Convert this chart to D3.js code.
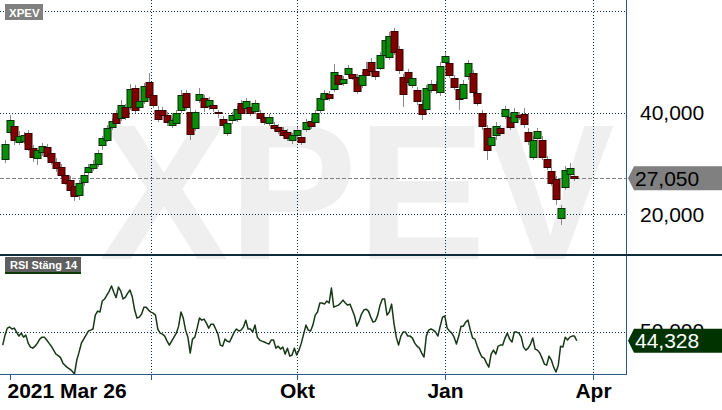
<!DOCTYPE html>
<html><head><meta charset="utf-8">
<script src="https://cdn.jsdelivr.net/npm/d3@7"></script>
<style>html,body{margin:0;padding:0;background:#fff;overflow:hidden}svg{display:block}</style>
</head><body>
<svg id="c" width="722" height="410"></svg>
<script>
const symbol = "XPEV";
const rsiLabel = "RSI Stäng 14";
// candles: one per two trading days (day index = 2*i+1)
const open = [30.85,36.17,37.35,34.20,34.39,35.97,33.01,31.04,32.23,33.21, 32.03,30.26,29.27,27.70,26.71,25.53,23.76,26.32,28.29,29.07, 29.86,33.60,34.59,37.15,39.91,38.92,41.09,41.09,44.83,41.09, 42.27,46.02,43.45,40.50,40.50,39.51,37.54,37.94,40.50,43.85, 40.11,36.95,42.47,42.86,41.29,41.49,40.11,38.73,35.97,38.53, 38.73,41.88,40.89,41.09,40.30,39.91,39.12,37.94,37.54,37.15, 36.56,36.17,34.59,35.57,35.18,36.76,38.33,38.13,40.50,42.67, 43.65,44.64,47.40,45.82,47.59,47.59,47.00,45.43,48.58,49.96, 48.18,48.77,51.34,50.94,56.06,52.52,47.00,47.99,45.43,44.44, 41.68,40.70,44.44,45.62,44.05,49.96,49.76,46.80,44.64,42.86, 47.20,47.79,43.85,39.91,36.95,33.60,35.57,36.95,39.32,39.12, 38.13,39.51,39.71,36.17,31.24,34.98,34.59,30.85,28.48,26.91, 19.22,25.33,27.89,27.50];
const high = [34.59,39.51,38.13,36.36,36.17,36.56,33.60,33.01,34.00,33.80, 32.62,31.04,29.86,28.29,27.50,26.32,26.71,28.29,29.86,30.65, 32.62,35.38,37.54,38.92,40.50,42.47,41.68,45.62,45.43,42.86, 45.82,47.79,44.05,41.29,41.09,40.11,38.92,40.50,44.44,44.44, 41.29,40.50,44.83,43.45,43.06,41.88,40.50,39.32,38.53,40.11, 41.29,42.47,42.86,41.68,42.47,40.50,39.71,39.71,38.13,37.74, 37.15,36.76,35.97,37.15,35.77,38.73,38.92,40.50,43.45,44.44, 44.24,49.56,47.99,47.20,49.36,48.18,47.59,47.99,49.96,50.74, 48.77,51.93,55.08,55.87,56.65,53.11,47.59,48.58,47.40,45.03, 42.47,45.43,46.41,46.21,49.96,51.93,50.74,47.40,45.23,46.41, 50.35,48.38,44.83,40.50,37.54,35.57,38.13,37.54,41.29,39.91, 40.89,40.11,40.89,36.95,35.38,36.95,35.38,31.44,30.06,27.50, 21.78,29.47,30.06,28.68];
const low = [30.06,35.57,33.60,33.60,33.80,32.42,30.26,29.67,31.44,31.04, 29.67,28.29,27.10,25.73,23.76,22.57,22.77,25.53,27.70,28.48, 29.27,32.62,34.20,36.56,37.35,38.33,38.53,40.50,39.91,40.50, 41.68,42.47,40.89,38.13,38.92,37.35,36.95,37.35,39.91,40.50, 34.59,36.36,41.88,40.11,40.50,40.11,38.92,36.95,35.38,37.74, 38.13,39.32,40.11,39.32,39.71,38.33,37.54,37.35,36.36,35.77, 35.18,34.39,33.80,35.18,33.60,36.17,36.76,37.54,39.91,42.08, 42.27,44.05,44.83,45.23,46.99,46.41,43.65,44.83,46.80,47.59, 46.41,48.38,50.74,50.35,51.34,47.59,41.09,45.43,44.83,41.49, 38.53,40.11,43.85,43.65,43.26,49.56,46.80,44.44,40.50,42.47, 46.41,43.06,41.29,36.56,30.65,32.62,34.59,35.38,38.73,36.56, 37.74,38.53,36.95,33.60,30.65,34.20,30.65,28.68,25.53,21.78, 17.84,24.74,27.10,26.51];
const close = [33.80,38.53,34.59,35.38,35.57,32.82,31.24,32.62,33.41,31.44, 30.26,29.07,27.70,26.12,24.74,23.56,26.12,27.70,29.27,29.86, 32.03,34.98,36.95,38.33,37.94,41.49,39.12,44.64,40.50,42.27, 45.23,43.06,41.49,38.73,39.51,38.13,38.53,39.91,43.45,41.09, 35.77,40.11,43.65,41.09,42.47,40.89,39.91,37.54,37.94,39.51, 40.70,39.91,42.27,39.91,41.88,38.92,38.13,39.12,36.95,36.36, 35.57,34.98,35.57,36.56,34.20,38.13,37.35,39.91,42.86,43.85, 42.86,47.99,45.62,46.61,48.77,46.80,44.24,47.40,47.40,48.18, 47.20,51.34,54.29,55.08,51.93,48.38,43.65,46.02,46.80,42.27, 39.71,44.83,45.62,44.44,49.17,51.14,47.40,45.03,42.67,45.62, 49.76,44.05,41.88,37.35,32.62,35.18,37.35,35.97,40.70,37.15, 40.11,39.12,37.74,34.39,34.59,36.36,31.24,29.27,26.12,22.97, 21.19,28.68,29.07,27.05];
// RSI, one value per trading day (day index 0..248)
const rsi = [41.5,48.0,52.6,53.3,52.0,52.6,50.0,47.4,49.3,46.7,
48.0,42.8,40.2,39.5,40.8,42.8,45.4,46.7,46.7,44.8,
42.8,40.8,38.2,35.6,34.6,33.3,29.7,28.1,26.8,25.8,
24.5,22.6,31.7,36.9,42.8,45.4,48.0,50.7,51.3,52.0,
61.1,63.7,63.1,70.3,71.6,74.2,76.8,80.1,76.1,72.5,
79.4,76.8,71.6,72.9,75.5,77.5,72.9,64.4,59.2,59.8,
61.8,66.3,66.3,64.4,63.1,62.4,61.1,52.0,49.3,48.7,
47.4,44.1,41.5,44.1,46.7,49.3,53.9,63.1,59.2,51.3,
46.7,36.3,45.4,46.7,52.6,59.2,57.8,58.5,55.9,52.6,
55.2,55.2,52.0,48.7,41.5,40.8,45.4,44.1,43.5,46.7,
50.0,52.0,50.7,51.3,53.3,57.8,52.0,52.0,50.0,54.6,
46.7,44.8,44.1,43.5,42.8,42.2,44.8,44.8,39.5,40.8,
38.9,40.2,35.6,39.5,34.3,35.0,39.5,35.0,38.2,42.8,
48.7,54.6,51.3,50.7,54.6,61.1,63.1,69.0,69.0,68.3,
70.3,69.0,78.8,66.3,67.0,67.6,69.0,70.9,69.0,67.6,
68.3,64.4,60.5,53.9,57.2,61.8,64.4,65.0,63.7,59.8,
56.5,57.2,61.1,67.6,71.6,71.6,61.1,63.1,68.3,55.9,
46.7,41.5,47.4,50.0,50.0,47.4,47.4,46.1,42.8,40.8,
39.5,36.3,33.7,47.4,51.3,52.0,51.3,50.0,47.4,53.9,
59.8,60.5,52.6,50.7,49.3,46.7,42.2,47.4,53.9,53.9,
56.5,57.8,51.3,46.1,45.4,40.8,36.9,33.7,33.0,29.7,
27.1,35.6,38.2,35.6,40.8,41.5,41.5,46.1,49.3,45.4,
43.5,50.0,50.0,49.3,46.7,40.2,38.2,39.5,42.2,46.1,
38.9,38.2,36.3,33.0,29.1,28.4,34.3,31.7,27.1,23.9,
28.4,40.8,40.2,46.7,44.8,46.7,47.4,47.4,44.328];
const tickDays = [3, 64, 127, 191, 255];
const tickLabels = ["2021 Mar 26", "", "Okt", "Jan", "Apr"];
const priceGrid = [20, 40, 60];
const priceLabels = [20, 40];
const rsiGrid = [50];
const lastPrice = 27.05;
const lastRsi = 44.328;

const FONT = "'Liberation Sans', Arial, sans-serif";
const plotR = 626;
const svg = d3.select("#c");
const x = d3.scaleLinear().domain([0, 248]).range([2.7, 576.8]);
const y = d3.scaleLinear().domain([20, 60]).range([214, 11]);
const yr = d3.scaleLinear().domain([20, 100]).range([378, 255.6]);
const fmt = d3.formatLocale({decimal: ",", thousands: " ", grouping: [3], currency: ["", ""]}).format(".3f");
const crisp = v => Math.round(v) + 0.5;

// watermark
svg.append("text").attr("x", 357).attr("y", 259).attr("text-anchor", "middle")
  .attr("font-family", FONT).attr("font-weight", "bold").attr("font-size", 193)
  .attr("fill", "#efefef").text(symbol);

const grid = svg.append("g").attr("stroke", "#0b3040").attr("stroke-width", 1).attr("stroke-dasharray", "1,2").attr("fill", "none");
priceGrid.forEach(v => grid.append("line").attr("x1", 0).attr("x2", plotR).attr("y1", crisp(y(v))).attr("y2", crisp(y(v))));
rsiGrid.forEach(v => grid.append("line").attr("x1", 0).attr("x2", plotR).attr("y1", crisp(yr(v))).attr("y2", crisp(yr(v))));
tickDays.slice(1).forEach(d => grid.append("line").attr("x1", crisp(x(d))).attr("x2", crisp(x(d))).attr("y1", 0).attr("y2", 374));

// last price dashed line
svg.append("line").attr("x1", 0).attr("x2", plotR).attr("y1", crisp(y(lastPrice))).attr("y2", crisp(y(lastPrice)))
  .attr("stroke", "#808080").attr("stroke-width", 1).attr("stroke-dasharray", "4,2");

// candles
const cg = svg.append("g");
open.forEach((o, i) => {
  const c = close[i], cx = Math.round(x(2 * i + 1));
  const up = c >= o;
  cg.append("line").attr("x1", cx + 0.5).attr("x2", cx + 0.5).attr("y1", y(high[i])).attr("y2", y(low[i]))
    .attr("stroke", "#8a8a8a").attr("stroke-width", 1);
  const top = y(Math.max(o, c)), bot = y(Math.min(o, c));
  cg.append("rect").attr("x", cx - 3).attr("width", 7)
    .attr("y", Math.round(top) + 0.5).attr("height", Math.max(1, Math.round(bot - top)))
    .attr("fill", up ? "#0a8c0a" : "#800000").attr("stroke", up ? "#053005" : "#3a0000").attr("stroke-width", 1);
});

// RSI line
svg.append("path").datum(rsi).attr("fill", "none").attr("stroke", "#163816").attr("stroke-width", 1.5)
  .attr("stroke-linejoin", "round")
  .attr("d", d3.line().x((d, i) => x(i)).y(d => yr(d)));

// frame lines
svg.append("line").attr("x1", plotR + 0.5).attr("x2", plotR + 0.5).attr("y1", 0).attr("y2", 375).attr("stroke", "#2c5a86");
svg.append("line").attr("x1", 0).attr("x2", plotR + 1).attr("y1", 374.5).attr("y2", 374.5).attr("stroke", "#2c5a86");
svg.append("line").attr("x1", 0).attr("x2", 722).attr("y1", 255).attr("y2", 255).attr("stroke", "#0e2a3c").attr("stroke-width", 2);

// bottom ticks & labels
tickDays.forEach((d, i) => {
  const tx = crisp(x(d));
  svg.append("line").attr("x1", tx).attr("x2", tx).attr("y1", 374).attr("y2", 380).attr("stroke", "#2c5a86");
  if (tickLabels[i]) {
    svg.append("text").attr("x", i === 0 ? tx - 3 : tx).attr("y", 398)
      .attr("text-anchor", i === 0 ? "start" : "middle")
      .attr("font-family", FONT).attr("font-weight", "bold").attr("font-size", 21).attr("fill", "#000")
      .text(tickLabels[i]);
  }
});

// right price labels
priceLabels.forEach(v => svg.append("text").attr("x", 640).attr("y", y(v)).attr("dy", "0.36em")
  .attr("font-family", FONT).attr("font-size", 21).attr("fill", "#000").text(fmt(v)));
rsiGrid.forEach(v => svg.append("text").attr("x", 640).attr("y", yr(v) - 2).attr("dy", "0.36em")
  .attr("font-family", FONT).attr("font-size", 21).attr("fill", "#000").text(fmt(v)));

function badge(yc, fill, color, txt) {
  const h = 12;
  svg.append("polygon").attr("points", [[628, yc], [634, yc - h], [722, yc - h], [722, yc + h], [634, yc + h]].map(p => p.join(",")).join(" "))
    .attr("fill", fill);
  svg.append("text").attr("x", 635).attr("y", yc).attr("dy", "0.36em")
    .attr("font-family", FONT).attr("font-size", 21).attr("fill", color).text(txt);
}
badge(y(lastPrice), "#808080", "#000", fmt(lastPrice));
badge(yr(lastRsi), "#003300", "#fff", fmt(lastRsi));

// top-left labels
svg.append("rect").attr("x", 5).attr("y", 4).attr("width", 38).attr("height", 16).attr("fill", "#808080");
svg.append("text").attr("x", 9).attr("y", 16.5).attr("font-family", FONT).attr("font-weight", "bold")
  .attr("font-size", 11.5).attr("fill", "#fff").text(symbol);
svg.append("rect").attr("x", 5).attr("y", 257).attr("width", 76).attr("height", 17).attr("fill", "#5f5f5f");
svg.append("rect").attr("x", 5).attr("y", 272).attr("width", 76).attr("height", 2).attr("fill", "#0a3a0a");
svg.append("text").attr("x", 10).attr("y", 269).attr("font-family", FONT).attr("font-weight", "bold")
  .attr("font-size", 11).attr("fill", "#fff").text(rsiLabel);
</script>
</body></html>
